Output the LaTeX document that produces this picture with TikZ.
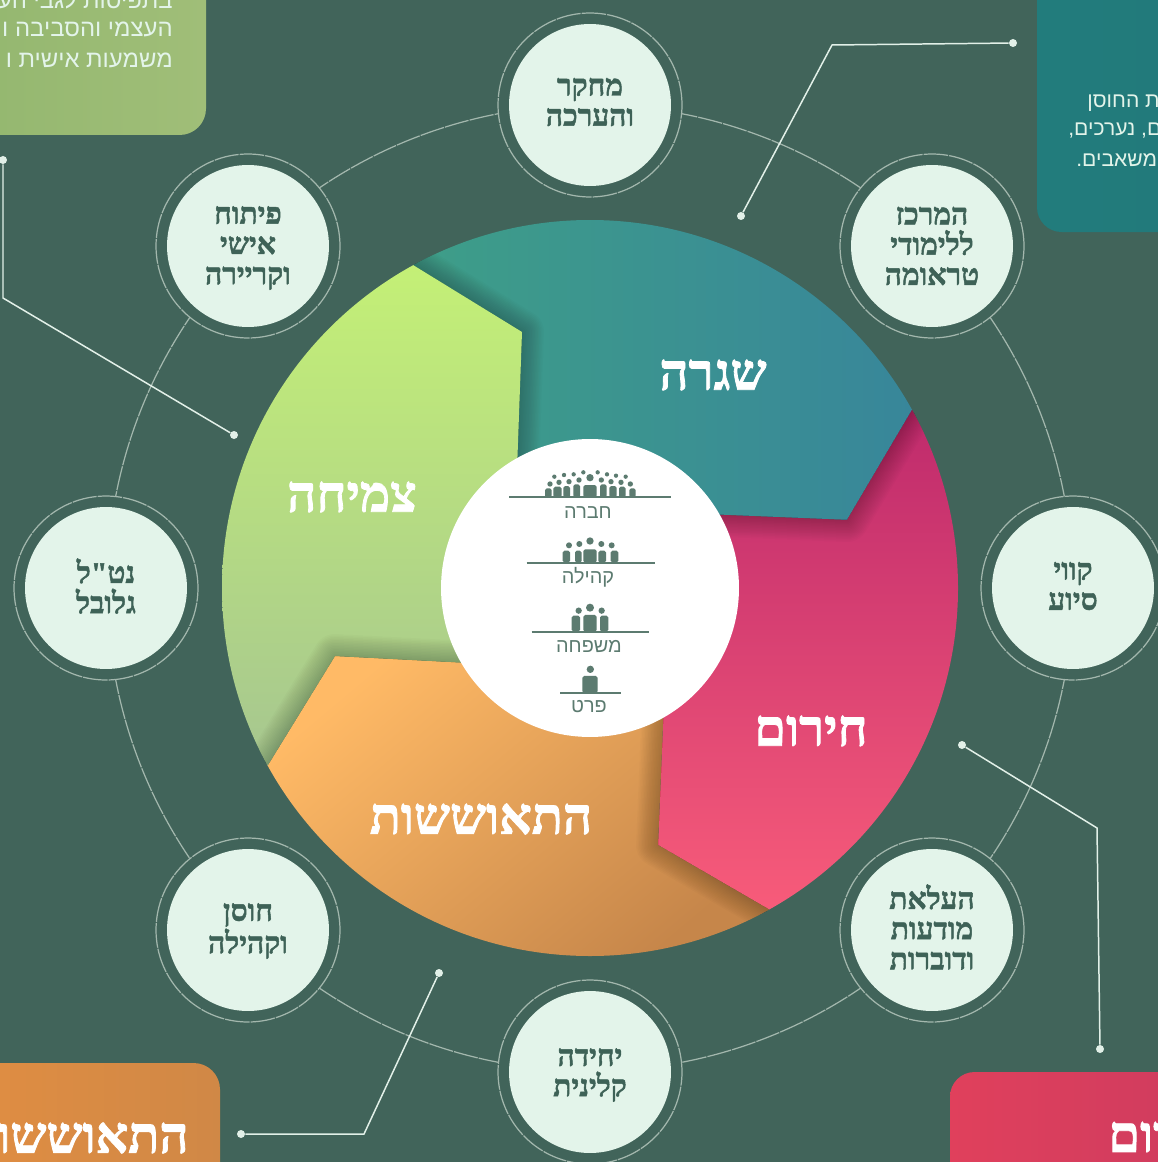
\documentclass[tikz,border=0pt]{standalone}
\usepackage{fontspec}
\TeXXeTstate=1
\newfontfamily\hebserif[Script=Hebrew,BoldFeatures={FakeBold=1.6}]{Liberation Serif}
\newfontfamily\hebsans[Script=Hebrew]{Liberation Sans}
\newcommand{\heb}[1]{\beginR #1\endR}
\definecolor{bgc}{HTML}{41645A}
\definecolor{discc}{HTML}{E3F4EA}
\definecolor{inkc}{HTML}{3E6257}
\definecolor{linec}{HTML}{E2F0E8}
\definecolor{ringc}{HTML}{A3B7AD}
\definecolor{iconc}{HTML}{5C7B70}
\definecolor{cgA}{RGB}{146,182,110}\definecolor{cgB}{RGB}{160,190,120}
\definecolor{ctA}{RGB}{34,124,124}\definecolor{ctB}{RGB}{33,120,122}
\definecolor{coA}{RGB}{226,142,66}\definecolor{coB}{RGB}{208,136,70}
\definecolor{crA}{RGB}{224,64,92}\definecolor{crB}{RGB}{200,58,96}
\definecolor{wtA}{RGB}{62,158,136}\definecolor{wtB}{RGB}{56,134,154}
\definecolor{wmA}{RGB}{190,42,108}\definecolor{wmB}{RGB}{248,92,122}
\definecolor{woA}{RGB}{255,186,102}\definecolor{woB}{RGB}{198,134,74}
\definecolor{wgA}{RGB}{196,240,118}\definecolor{wgB}{RGB}{166,198,144}
\tikzset{
  px/.style={x=0.02cm,y=-0.02cm},
  ringdisc/.style={circle,draw=ringc,line width=0.7pt,dash pattern=on 14pt off 0.6pt,fill=bgc,minimum size=3.68cm,inner sep=0pt},
  topic/.style={circle,fill=discc,minimum size=3.24cm,inner sep=0pt},
  topiclabel/.style={text=inkc,inner sep=0pt,align=center,
     font=\hebserif\bfseries\fontsize{17}{17.2}\selectfont},
  wedgelabel/.style={text=white,inner sep=0pt,font=\hebserif\bfseries\fontsize{29}{30}\selectfont},
  lead/.style={draw=linec,line width=0.85pt},
  leaddot/.style={circle,fill=linec,minimum size=0.16cm,inner sep=0pt},
  tier/.style={text=iconc,inner sep=0pt,font=\hebsans\fontsize{11.3}{12}\selectfont},
  cardgreen/.style={text=discc,inner sep=0pt,font=\hebsans\fontsize{13.6}{15}\selectfont},
  cardteal/.style={text=discc,inner sep=0pt,font=\hebsans\fontsize{12}{13}\selectfont},
  cardhead/.style={text=white,inner sep=0pt,font=\hebserif\bfseries\fontsize{29}{30}\selectfont},
  floor/.style={draw=iconc,line width=1.2pt},
  figure/.style={fill=iconc,rounded corners=1pt},
  headdot/.style={fill=iconc},
}
\newcommand{\topicdisc}[5]{%
  \node[ringdisc] (ring#1) at (#2,#3) {};
  \node[topic] (topic#1) at (#2,#3) {};
  \node[topiclabel] (label#1) at (#2,#4) {#5};
}
\newcommand{\wedgeshadow}[1]{%
  \foreach \w in {2,5,8,11,14,17,20,23,26,29,32,35,38,41,44}{
    \draw[black,opacity=0.017,line width=\w*0.567pt,line join=round] #1;
  }
}
\begin{document}
\begin{tikzpicture}[px]
\useasboundingbox (0,0) rectangle (1158,1162);
\clip (0,0) rectangle (1158,1162);
\fill[bgc] (0,0) rectangle (1158,1162);

% corner cards
\shade[left color=cgA,right color=cgB,rounded corners=15pt] (-60,-60) rectangle (206,135);
\shade[left color=ctA,right color=ctB,rounded corners=14pt] (1037,-60) rectangle (1300,232);
\shade[left color=coA,right color=coB,rounded corners=15pt] (-60,1063) rectangle (220,1300);
\shade[left color=crA,right color=crB,rounded corners=14pt] (950,1072) rectangle (1300,1300);

\node[cardgreen,anchor=east] (gline1) at (173,-1) {\heb{בתפיסות לגבי הע}};
\node[cardgreen,anchor=east] (gline2) at (173,29) {\heb{העצמי והסביבה ו}};
\node[cardgreen,anchor=east] (gline3) at (173,60) {\heb{משמעות אישית ו}};
\node[cardteal,anchor=west] (tline1) at (1087,103) {\heb{ת החוסן}};
\node[cardteal,anchor=west] (tline2) at (1068,131) {\heb{ם, נערכים,}};
\node[cardteal,anchor=west] (tline3) at (1076,160) {\heb{משאבים.}};
\node[cardhead,anchor=east] (ohead) at (189,1138) {\heb{התאוששות}};
\node[cardhead,anchor=west] (rhead) at (1108,1137) {\heb{רום}};

% outer ring and topic discs
\draw[ringc,line width=0.7pt,dash pattern=on 14pt off 0.6pt] (590,588) circle[radius=483];
\topicdisc{a}{590}{105}{102}{\heb{מחקר}\\\heb{והערכה}}
\topicdisc{b}{932}{246}{246}{\heb{המרכז}\\\heb{ללימודי}\\\heb{טראומה}}
\topicdisc{c}{1073}{588}{586}{\heb{קווי}\\\heb{סיוע}}
\topicdisc{d}{932}{930}{927}{\heb{העלאת}\\\heb{מודעות}\\\heb{ודוברות}}
\topicdisc{e}{590}{1072}{1075}{\heb{יחידה}\\\heb{קלינית}}
\topicdisc{f}{248}{930}{931}{\heb{חוסן}\\\heb{וקהילה}}
\topicdisc{g}{106}{588}{586}{\heb{נט"ל}\\\heb{גלובל}}
\topicdisc{h}{248}{246}{248}{\heb{פיתוח}\\\heb{אישי}\\\heb{וקריירה}}

% wheel
\begin{scope}
\clip (590,588) circle[radius=368];
\begin{scope}
  \clip (590,588)--(517,470)--(522,332)--(413,265)--(324,103)--(1100,103)--(1100,306)--(912,410)--(847,520)--(700,514)--cycle;
  \shade[left color=wtA,right color=wtB] (413,215) rectangle (915,525);
  \wedgeshadow{(413,265)--(522,332)--(517,470)}
\end{scope}
\begin{scope}
  \clip (590,588)--(700,514)--(847,520)--(912,410)--(1100,306)--(1100,1071)--(860,1071)--(770,910)--(658,845)--(664,700)--cycle;
  \shade[top color=wmA,bottom color=wmB] (650,405) rectangle (965,915);
  \wedgeshadow{(912,410)--(847,520)--(700,514)}
\end{scope}
\begin{scope}
  \clip (590,588)--(664,700)--(658,845)--(770,910)--(860,1071)--(100,1071)--(107,853)--(268,765)--(335,656)--(470,663)--cycle;
  \shade[top color=woA,bottom color=woB,shading angle=40] (265,650) rectangle (775,960);
  \wedgeshadow{(770,910)--(658,845)--(664,700)}
\end{scope}
\begin{scope}
  \clip (590,588)--(470,663)--(335,656)--(268,765)--(107,853)--(107,103)--(324,103)--(413,265)--(522,332)--(517,470)--cycle;
  \shade[top color=wgA,bottom color=wgB] (220,262) rectangle (525,770);
  \wedgeshadow{(268,765)--(335,656)--(470,663)}
\end{scope}
\end{scope}

\node[wedgelabel] (shigra) at (713,375) {\heb{שגרה}};
\node[wedgelabel] (hirum) at (811,731) {\heb{חירום}};
\node[wedgelabel] (recov) at (481,819) {\heb{התאוששות}};
\node[wedgelabel] (growth) at (352,497) {\heb{צמיחה}};

% centre
\node[circle,fill=white,minimum size=5.96cm,inner sep=0pt] (hub) at (590,588) {};
\begin{scope}[shift={(440,440)},x=0.00667cm,y=-0.00667cm]
  % society
  \draw[floor] (208,172)--(692,172);
  \foreach \a/\b/\hy in {315/335/132,340/365/127,370/390/125,400/420/120,480/500/120,508/530/125,537/557/127,568/587/132}{
    \fill[figure] (\a,172) rectangle (\b,\hy+13);
  }
  \fill[figure] (430,172) rectangle (470,135);
  \fill[headdot] (450,113) circle[radius=11];
  \foreach \hx/\hy in {330/132,357/127,387/125,417/120,484/120,513/125,543/127,571/132}{\fill[headdot] (\hx,\hy) circle[radius=8];}
  \foreach \hx/\hy in {343/110,372/105,401/103,430/97,473/97,501/103,528/107,557/110}{\fill[headdot] (\hx,\hy) circle[radius=6.5];}
  % community
  \draw[floor] (260,368)--(645,368);
  \foreach \a/\b in {368/390,405/425,475/498,512/535}{\fill[figure] (\a,368) rectangle (\b,332);}
  \fill[figure] (430,368) rectangle (470,328);
  \fill[headdot] (450,303) circle[radius=11];
  \foreach \hx/\hy in {387/316,418/312,484/312,515/316}{\fill[headdot] (\hx,\hy) circle[radius=9];}
  % family
  \draw[floor] (275,575)--(626,575);
  \fill[figure] (395,575) rectangle (420,527);
  \fill[figure] (480,575) rectangle (505,527);
  \fill[figure] (430,575) rectangle (470,525);
  \fill[headdot] (450,503) circle[radius=12];
  \fill[headdot] (416,512) circle[radius=9.5];
  \fill[headdot] (485,512) circle[radius=9.5];
  % person
  \draw[floor] (360,759)--(543,759);
  \fill[figure] (427,759) rectangle (473,708);
  \fill[headdot] (451,688) circle[radius=11];
\end{scope}
\node[tier] (tier1) at (588,513) {\heb{חברה}};
\node[tier] (tier2) at (588,577) {\heb{קהילה}};
\node[tier] (tier3) at (589,646) {\heb{משפחה}};
\node[tier] (tier4) at (589,707) {\heb{פרט}};

% leaders
\node[leaddot] (d1a) at (1013,43) {};
\coordinate (k1) at (832,45);
\node[leaddot] (d1b) at (741,216) {};
\draw[lead] (d1a)--(k1)--(d1b);
\node[leaddot] (d2a) at (3,160) {};
\coordinate (k2) at (3,298);
\node[leaddot] (d2b) at (234,435) {};
\draw[lead] (d2a)--(k2)--(d2b);
\node[leaddot] (d3a) at (962,745) {};
\coordinate (k3) at (1097,828);
\node[leaddot] (d3b) at (1100,1049) {};
\draw[lead] (d3a)--(k3)--(d3b);
\node[leaddot] (d4a) at (241,1134) {};
\coordinate (k4) at (364,1134);
\node[leaddot] (d4b) at (439,973) {};
\draw[lead] (d4a)--(k4)--(d4b);
\end{tikzpicture}
\end{document}
